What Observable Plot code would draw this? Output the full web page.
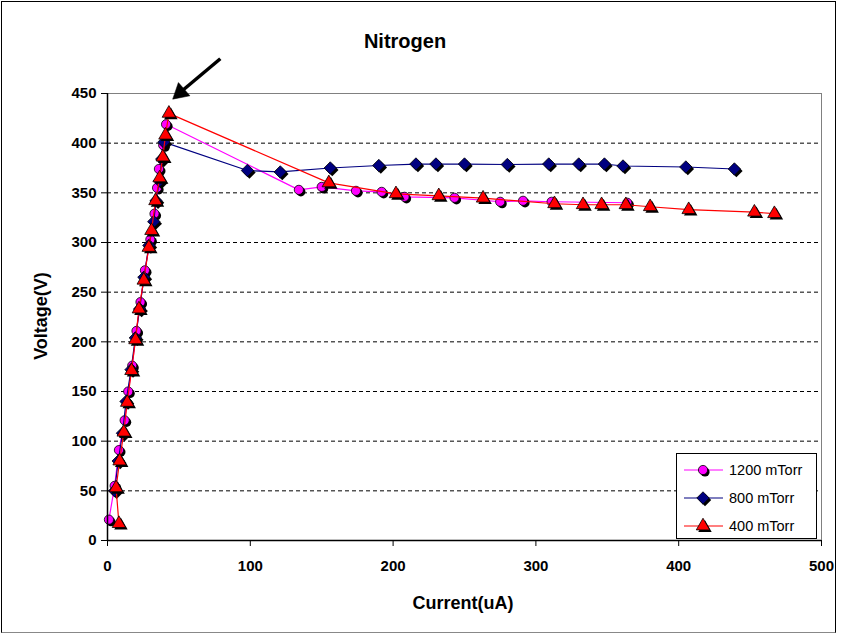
<!DOCTYPE html>
<html>
<head>
<meta charset="utf-8">
<script src="https://cdn.jsdelivr.net/npm/d3@7"></script>
<script src="https://cdn.jsdelivr.net/npm/@observablehq/plot@0.6"></script>
<style>
  html, body { margin: 0; padding: 0; background: #fff; }
  #wrap { position: relative; width: 842px; height: 635px; font-family: "Liberation Sans", Arial, sans-serif; }
  #frame { position: absolute; left: 1px; top: 1px; width: 835px; height: 632px; border: 1px solid #000; border-bottom-color: #888; box-sizing: border-box; pointer-events: none; }
  .title { position: absolute; left: 305px; width: 200px; top: 31px; text-align: center; font-weight: bold; font-size: 20px; line-height: 20px; color: #000; }
  .xlab { position: absolute; left: 363px; width: 200px; top: 594px; text-align: center; font-weight: bold; font-size: 18px; line-height: 18px; }
  .ylab { position: absolute; left: 41px; top: 316px; transform: translate(-50%, -50%) rotate(-90deg); font-weight: bold; font-size: 18px; line-height: 18px; white-space: nowrap; }
  #legend { position: absolute; left: 676px; top: 453px; width: 141px; height: 86px; border: 1px solid #000; background: #fff; box-sizing: border-box; }
  .row { position: absolute; left: 5px; height: 22px; display: flex; align-items: center; font-size: 14.5px; white-space: nowrap; }
  .row svg { margin-right: 3px; }
</style>
</head>
<body>
<div id="wrap">
  <div id="chart"></div>
  <div class="title">Nitrogen</div>
  <div class="xlab">Current(uA)</div>
  <div class="ylab">Voltage(V)</div>
  <div id="legend"></div>
  <div id="frame"></div>
</div>
<script>
// ---- data ----
const seriesNames = ["1200 mTorr", "800 mTorr", "400 mTorr"];
const seriesColors = ["#FF00FF", "#000080", "#FF0000"];
const seriesSymbols = ["circle", "diamond2", "triangle"];

const x1200 = [1, 5, 8, 12, 14.5, 17.3, 20.3, 23.1, 26.2, 30, 32.9, 34.7, 36, 39, 41, 134, 150, 174, 192, 208, 243, 275, 291, 311, 364];
const y1200 = [21, 55, 91, 121, 150, 176, 211, 240, 272, 303, 329, 355, 374, 398, 419, 353, 356, 352, 351, 346, 345, 341, 342, 341, 340];

const x800 = [5, 7.5, 10.5, 13, 16.5, 19.5, 22.5, 25.5, 29, 32.4, 34, 36.4, 38, 39.5, 98, 121, 156, 190, 216, 230, 250, 280, 309, 330, 348, 361, 405, 439];
const y800 = [50, 80, 108, 140, 172, 204, 233, 265, 297, 321, 342, 362, 384, 401, 372.5, 371, 375, 377.5, 379, 379, 379, 378.5, 379, 379, 379, 377, 376, 374];

const x400 = [8, 6, 8.5, 11.4, 13.8, 16.8, 19.6, 22, 25.4, 28.9, 30.8, 33.6, 36.5, 38.7, 40.6, 43, 155, 202, 232, 263, 313, 333, 346, 363, 380, 407, 453, 467];
const y400 = [17, 53, 80, 109, 139, 171, 202, 233, 262, 295, 312, 342, 365, 386, 408, 430, 360, 349, 347, 344.6, 339, 338, 338, 338, 336, 333, 330.5, 329];

const xTicks = [0, 100, 200, 300, 400, 500];
const yTicks = [0, 50, 100, 150, 200, 250, 300, 350, 400, 450];
const gridY = [50, 100, 150, 200, 250, 300, 350, 400];
// annotation arrow: tail and head (data units), head drawn as a filled triangle
const arrowShaft = [{x1: 79, y1: 485, x2: 50, y2: 450}];
const arrowHead = [{x: 51, y: 451}];

// ---- build ----
const xs = [x1200, x800, x400], ys = [y1200, y800, y400];
const series = seriesNames.map((name, i) => xs[i].map((x, j) => ({x, y: ys[i][j], s: name})));
const rSize = [4.6, 5.6, 5.0];

const marks = [
  Plot.ruleY(gridY, {stroke: "#000", strokeDasharray: "4,3", strokeWidth: 1}),
  Plot.frame({stroke: "#808080"})
];
series.forEach((data, i) => {
  marks.push(Plot.line(data, {x: "x", y: "y", stroke: seriesColors[i], strokeWidth: 1.2}));
  marks.push(Plot.dot(data, {x: "x", y: "y", symbol: seriesSymbols[i], r: rSize[i], fill: "#000", dx: 2, dy: 2}));
  marks.push(Plot.dot(data, {x: "x", y: "y", symbol: seriesSymbols[i], r: rSize[i], fill: seriesColors[i], stroke: "#000", strokeWidth: 0.8}));
});
marks.push(
  Plot.ruleX([0], {stroke: "#000", strokeWidth: 1.5}),
  Plot.ruleY([0], {stroke: "#000", strokeWidth: 1.5}),
  Plot.axisX({ticks: xTicks, tickSize: 6, tickPadding: 14, fontSize: 15, fontWeight: "bold", label: null, tickFormat: d => d}),
  Plot.axisY({ticks: yTicks, tickSize: 6, tickPadding: 5, fontSize: 15, fontWeight: "bold", label: null, tickFormat: d => d}),
  Plot.link(arrowShaft, {x1: "x1", y1: "y1", x2: "x2", y2: "y2", stroke: "#fff", strokeWidth: 9, clip: false}),
  Plot.link(arrowShaft, {x1: "x1", y1: "y1", x2: "x2", y2: "y2", stroke: "#000", strokeWidth: 3.5, clip: false}),
  Plot.dot(arrowHead, {x: "x", y: "y", symbol: "triangle", r: 6.5, rotate: 229, fill: "#000", stroke: "#000", strokeWidth: 0.5, clip: false})
);

const chart = Plot.plot({
  width: 842,
  height: 635,
  marginLeft: 107,
  marginRight: 21,
  marginTop: 93,
  marginBottom: 95,
  x: {domain: [0, 500]},
  y: {domain: [0, 450]},
  style: {fontFamily: "'Liberation Sans', Arial, sans-serif", color: "#000", background: "#fff", overflow: "visible"},
  marks
});
document.getElementById("chart").appendChild(chart);

// ---- legend ----
const legend = document.getElementById("legend");
seriesNames.forEach((name, i) => {
  const row = document.createElement("div");
  row.className = "row";
  row.style.top = (5 + i * 28) + "px";
  const sym = d3.symbol().type(i === 0 ? d3.symbolCircle : i === 1 ? d3.symbolDiamond2 : d3.symbolTriangle)
    .size(Math.PI * rSize[i] * rSize[i]);
  row.innerHTML = `<svg width="44" height="20">
      <line x1="2" x2="41" y1="10" y2="10" stroke="${seriesColors[i]}" stroke-width="1.2"/>
      <path transform="translate(23,12)" d="${sym()}" fill="#000"/>
      <path transform="translate(21,10)" d="${sym()}" fill="${seriesColors[i]}" stroke="#000" stroke-width="0.8"/>
    </svg><span>${name}</span>`;
  legend.appendChild(row);
});
</script>
</body>
</html>
